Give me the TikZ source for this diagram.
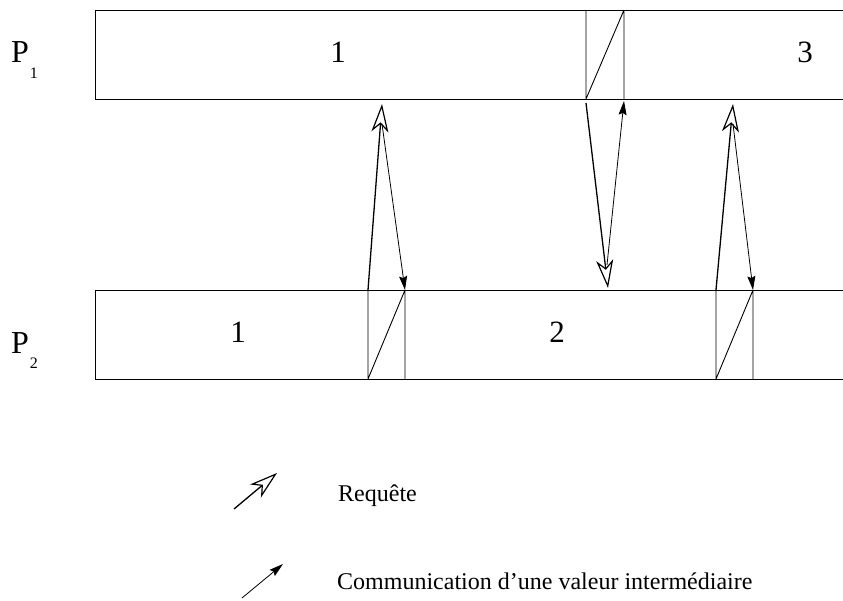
\documentclass[tikz,border=0pt]{standalone}
\usepackage{fontspec}
\setmainfont{Liberation Serif}
\usetikzlibrary{arrows.meta}
\tikzset{
  bar/.style={line width=0.9pt, black},
  slot/.style={line width=0.9pt, black},
  req/.style={line width=1.3pt, -{Stealth[open, length=28pt, width=17pt, inset=8pt, line width=1.2pt]}},
  val/.style={line width=0.8pt, -{Stealth[length=14pt, width=8pt, inset=2pt]}},
  num/.style={font=\fontsize{31}{32}\selectfont, inner sep=0pt},
  lab/.style={font=\fontsize{32}{34}\selectfont, inner sep=0pt, anchor=base west},
  leg/.style={font=\fontsize{24}{26}\selectfont, inner sep=0pt, anchor=base west}
}
\newcommand{\psub}[1]{P\hspace{1pt}\raisebox{-16pt}{\fontsize{16}{16}\selectfont #1}}
\begin{document}
\begin{tikzpicture}[x=1pt, y=-1pt]
\useasboundingbox (0,0) rectangle (843,601);
% bars (open at right)
\draw[bar] (843,10) -- (95,10) -- (95,99) -- (843,99);
\draw[bar] (843,290) -- (95,290) -- (95,379) -- (843,379);
% hatched slots
\draw[slot] (586,10) -- (586,99) (624,10) -- (624,99) (586,99) -- (624,10);
\draw[slot] (368,290) -- (368,379) (405,290) -- (405,379) (368,379) -- (405,290);
\draw[slot] (716,290) -- (716,379) (753,290) -- (753,379) (716,379) -- (753,290);
% labels
\node[lab] (p1) at (11,63) {\psub{1}};
\node[lab] (p2) at (11,353) {\psub{2}};
\node[num] (a1) at (338,52) {1};
\node[num] (a3) at (805,52) {3};
\node[num] (b1) at (238,332) {1};
\node[num] (b2) at (557,332) {2};
% named points
\coordinate (r1s) at (368,290);
\coordinate (r1e) at (382,104);
\coordinate (v1s) at (382,124);
\coordinate (v1e) at (405,290);
\coordinate (r2s) at (586,103);
\coordinate (r2e) at (608,288);
\coordinate (v2s) at (607,265);
\coordinate (v2e) at (624,101);
\coordinate (r3s) at (716,290);
\coordinate (r3e) at (733,104);
\coordinate (v3s) at (733,124);
\coordinate (v3e) at (753,290);
% arrows
\draw[val] (v1s) -- (v1e);
\draw[req] (r1s) -- (r1e);
\draw[val] (v2s) -- (v2e);
\draw[req] (r2s) -- (r2e);
\draw[val] (v3s) -- (v3e);
\draw[req] (r3s) -- (r3e);
% legend
\coordinate (l1s) at (234,509);
\coordinate (l1e) at (277,473);
\coordinate (l2s) at (242,598);
\coordinate (l2e) at (283,564);
\draw[req] (l1s) -- (l1e);
\draw[val] (l2s) -- (l2e);
\node[leg] (t1) at (338,501) {Requête};
\node[leg] (t2) at (337,589) {Communication d’une valeur intermédiaire};
\end{tikzpicture}
\end{document}
